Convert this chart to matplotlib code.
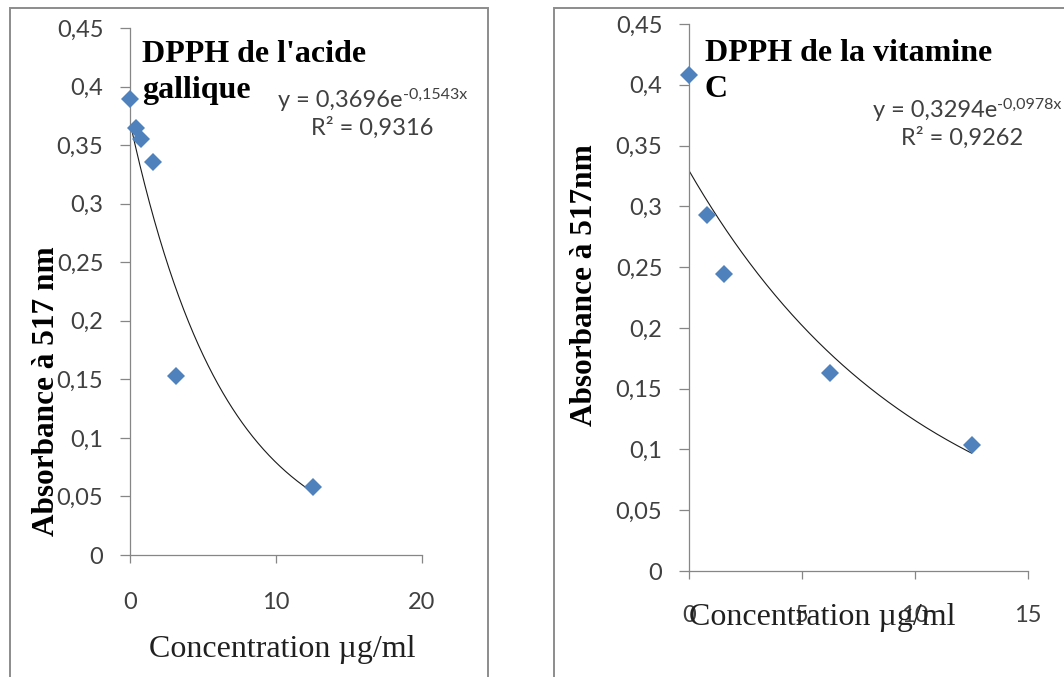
import numpy as np
import matplotlib
matplotlib.use("Agg")
import matplotlib.pyplot as plt
from matplotlib.patches import Rectangle

W, H = 1064, 677
DPI = 100

# DPPH assay, gallic acid
gallic_conc = [0, 0.39, 0.78, 1.56, 3.125, 12.5]
gallic_abs = [0.389, 0.365, 0.355, 0.336, 0.153, 0.058]
gallic_fit = (0.3696, 0.1543)
gallic_r2 = 0.9316

# DPPH assay, vitamin C
vitc_conc = [0, 0.78, 1.56, 6.25, 12.5]
vitc_abs = [0.408, 0.293, 0.244, 0.163, 0.104]
vitc_fit = (0.3294, 0.0978)
vitc_r2 = 0.9262

y_ticks = [0, 0.05, 0.1, 0.15, 0.2, 0.25, 0.3, 0.35, 0.4, 0.45]
y_tick_labels = ["0", "0,05", "0,1", "0,15", "0,2", "0,25", "0,3", "0,35", "0,4", "0,45"]
gallic_xticks = [0, 10, 20]
vitc_xticks = [0, 5, 10, 15]

MARKER = "#4F81BD"
AXIS = "#868686"
TXT = "#404040"
SANS = "Lato"
SERIF = "Liberation Serif"


def fx(x):
    return x / W


def fy(y):
    return 1 - y / H


def comma(v, nd):
    return f"{v:.{nd}f}".replace(".", ",")


fig = plt.figure(figsize=(W / DPI, H / DPI), dpi=DPI)
fig.patch.set_facecolor("white")

# chart-area frames
for x0, x1 in [(10, 488), (554, 1080)]:
    fig.add_artist(Rectangle((fx(x0), fy(700)), fx(x1 - x0), (700 - 8) / H,
                             transform=fig.transFigure, fill=False,
                             edgecolor="#8c8c8c", linewidth=1.4))


def place_sup(base, text, size):
    r = fig.canvas.get_renderer()
    bb = base.get_window_extent(renderer=r)
    fig.text(bb.x1 / W, (bb.y1 + 2) / H, text, family=SANS, fontsize=size,
             color=TXT, ha="left", va="top")


def add_panel(box, conc, absb, fit, r2, xticks, xmax, xpad, title, ylab, ylab_xy,
              xlab_xy, title_xy, eq_xy, r2_xy):
    left, top, right, bottom = box
    ax = fig.add_axes([fx(left), fy(bottom), fx(right - left), (bottom - top) / H])
    ax.set_xlim(0, xmax)
    ax.set_ylim(0, 0.45)
    ax.set_yticks(y_ticks)
    ax.set_yticklabels(y_tick_labels)
    ax.set_xticks(xticks)
    ax.set_xticklabels([str(t) for t in xticks])
    for s in ("top", "right"):
        ax.spines[s].set_visible(False)
    for s in ("left", "bottom"):
        ax.spines[s].set_color(AXIS)
        ax.spines[s].set_linewidth(0.9)
    ax.tick_params(axis="y", direction="out", length=7.2, width=0.9, color=AXIS,
                   pad=12, labelsize=17, labelcolor=TXT)
    ax.tick_params(axis="x", direction="out", length=5.8, width=0.9, color=AXIS,
                   pad=xpad, labelsize=17, labelcolor=TXT)
    for lab in ax.get_xticklabels() + ax.get_yticklabels():
        lab.set_fontfamily(SANS)

    # exponential trendline from the stated fit
    a, b = fit
    xs = np.linspace(min(conc), max(conc), 300)
    ax.plot(xs, a * np.exp(-b * xs), color="#1a1a1a", linewidth=0.8, zorder=2)
    ax.plot(conc, absb, linestyle="none", marker="D", markersize=9.5,
            markerfacecolor=MARKER, markeredgecolor=MARKER, markeredgewidth=0,
            clip_on=False, zorder=3)

    fig.text(fx(title_xy[0]), fy(title_xy[1]), title, family=SERIF,
             fontweight="bold", fontsize=23, ha="left", va="baseline",
             linespacing=1.3, color="black")
    fig.text(fx(ylab_xy[0]), fy(ylab_xy[1]), ylab, family=SERIF,
             fontweight="bold", fontsize=22.5, rotation=90, ha="center",
             va="center", color="black")
    fig.text(fx(xlab_xy[0]), fy(xlab_xy[1]), "Concentration µg/ml", family=SERIF,
             fontsize=23, ha="center", va="baseline", color="#202020")

    base = fig.text(fx(eq_xy[0]), fy(eq_xy[1]), f"y = {comma(a, 4)}e", family=SANS,
                    fontsize=17, ha="left", va="baseline", color=TXT)
    place_sup(base, f"-{comma(b, 4)}x", 11.5)
    fig.text(fx(r2_xy[0]), fy(r2_xy[1]), f"R² = {comma(r2, 4)}", family=SANS,
             fontsize=17, ha="center", va="baseline", color=TXT)
    return ax


add_panel((130, 28, 422, 555), gallic_conc, gallic_abs, gallic_fit, gallic_r2,
          gallic_xticks, 20, 21, "DPPH de l'acide\ngallique",
          "Absorbance à 517 nm", (47, 391), (282, 657), (142, 98),
          (278, 107), (372, 135))
add_panel((689, 24, 1028, 571), vitc_conc, vitc_abs, vitc_fit, vitc_r2,
          vitc_xticks, 15, 19, "DPPH de la vitamine\nC",
          "Absorbance à 517nm", (584, 285), (822, 625), (705, 97),
          (873, 117), (962, 145))

fig.savefig("out.png", dpi=DPI, facecolor="white")
